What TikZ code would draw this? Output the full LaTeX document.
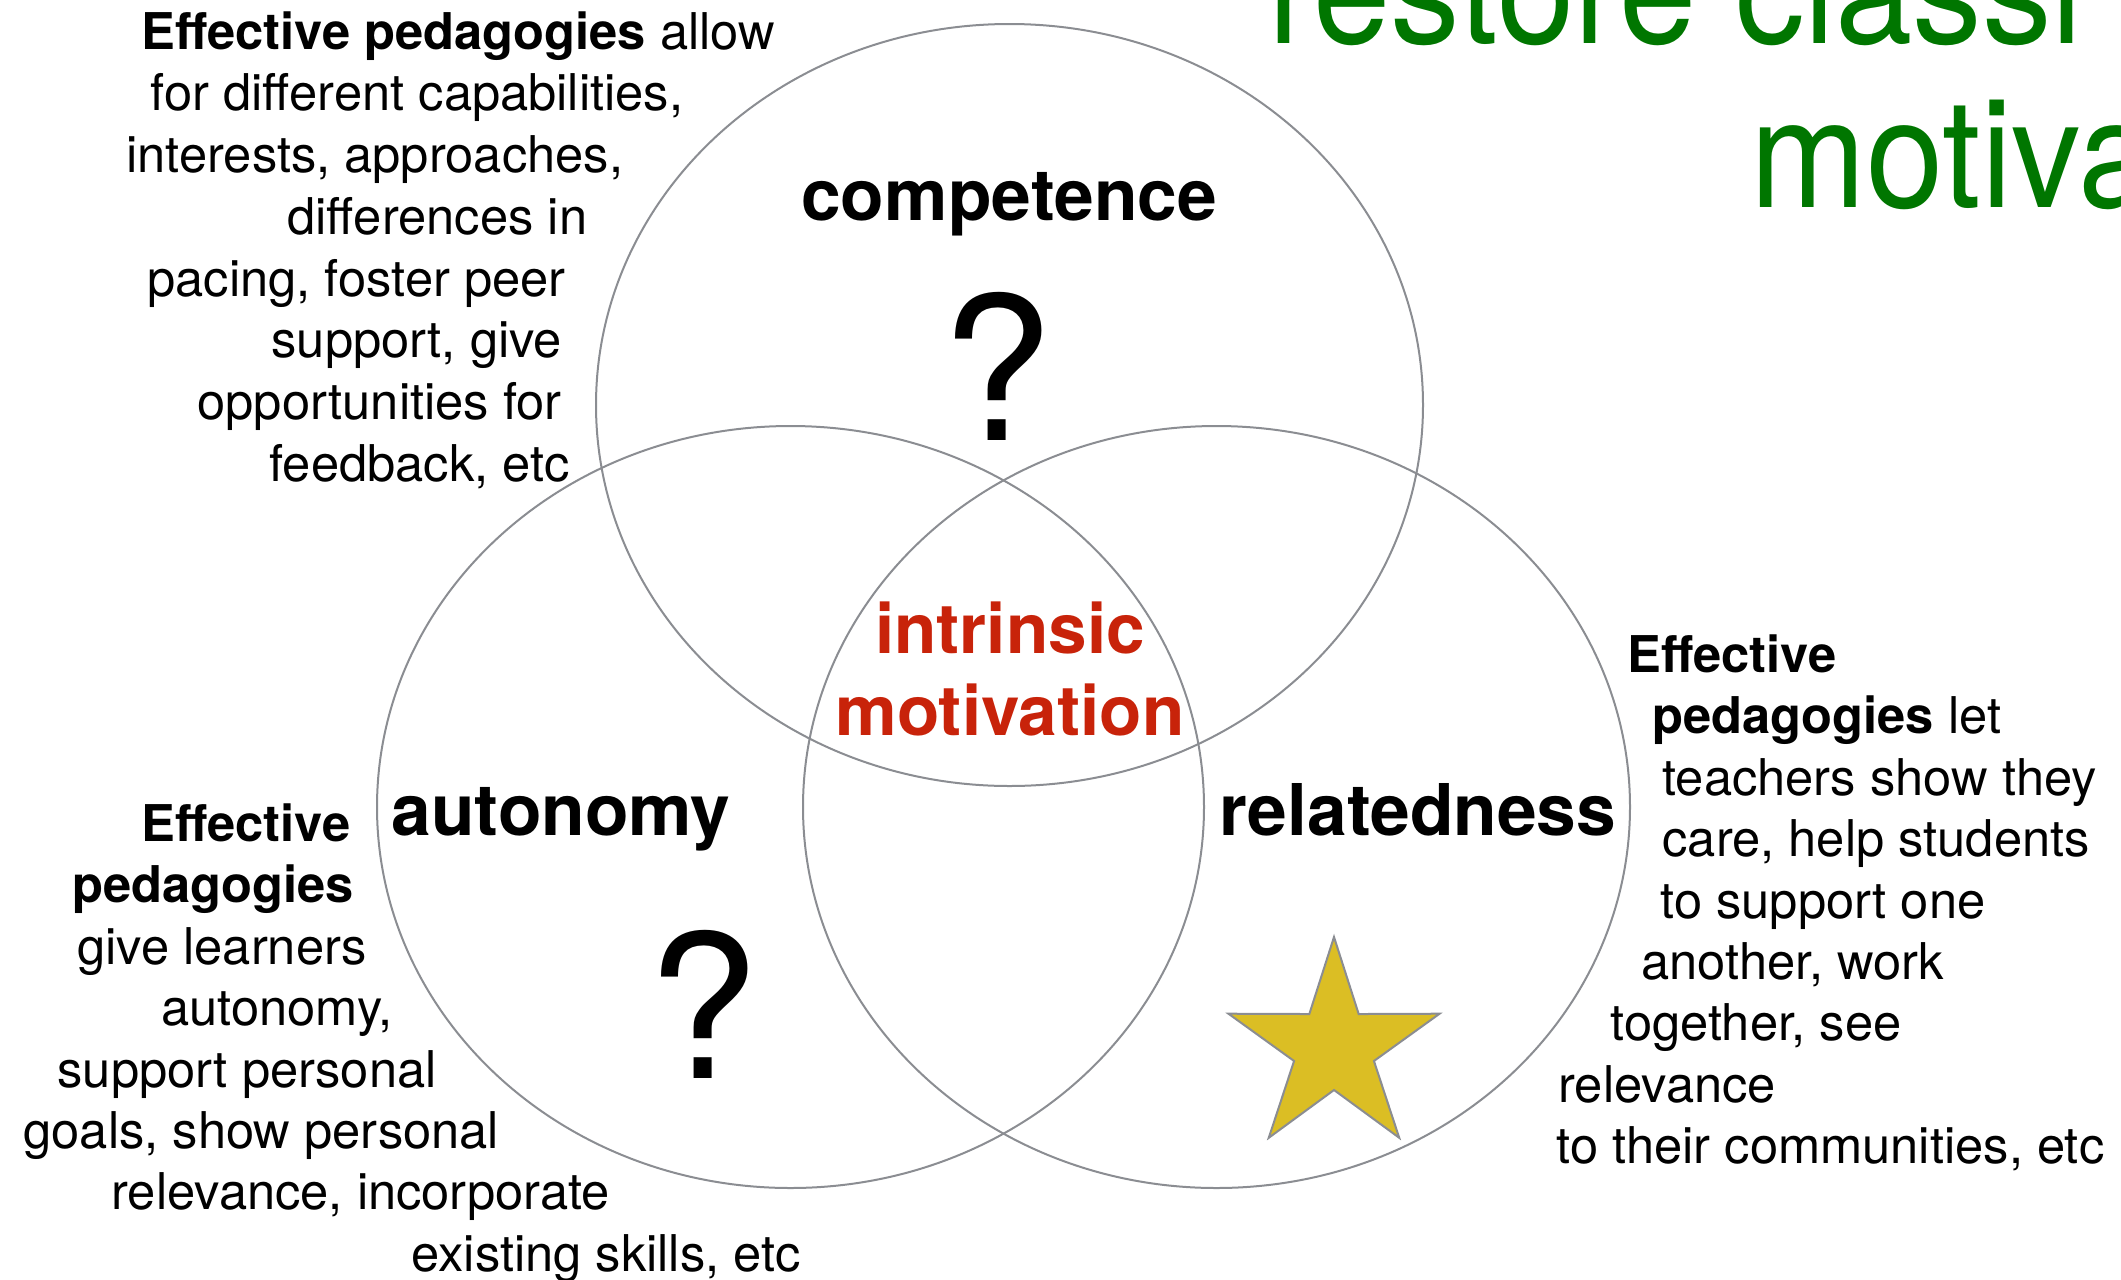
\documentclass[tikz,border=0pt]{standalone}
\usepackage{fontspec}
\setmainfont{TeX Gyre Heros}
\newfontfamily\headfont[FakeStretch=0.915]{TeX Gyre Heros}

\definecolor{ringgray}{RGB}{139,141,146}
\definecolor{motivred}{RGB}{200,35,10}
\definecolor{headgreen}{RGB}{0,118,0}
\definecolor{stargold}{RGB}{219,190,36}

\tikzset{every picture/.style={line width=0.75pt}}
\tikzset{
  ring/.style={draw=ringgray, line width=1.5pt},
  starshape/.style={draw=ringgray, line width=1.5pt, fill=stargold},
  note/.style={anchor=base west, inner sep=0pt, font=\fontsize{38}{46}\selectfont},
  need/.style={anchor=base, inner sep=0pt, font=\fontsize{53.5}{60}\selectfont\bfseries},
  core/.style={anchor=base, inner sep=0pt, text=motivred, font=\fontsize{52}{61}\selectfont\bfseries},
  unknown/.style={anchor=base, inner sep=0pt, font=\fontsize{150}{150}\selectfont},
  heading/.style={anchor=base west, inner sep=0pt, text=headgreen, font=\fontsize{114}{120}\selectfont\headfont},
}

\begin{document}
\begin{tikzpicture}[x=0.75pt,y=0.75pt,yscale=-1,xscale=1]
	\clip (0,0) rectangle (2121,1279);
	
	%Shape: Ellipse
	\draw [ring] (1009.5,405) ellipse [x radius=413.5, y radius=381];
	%Shape: Ellipse
	\draw [ring] (790.5,807) ellipse [x radius=413.5, y radius=381];
	%Shape: Ellipse
	\draw [ring] (1216.5,807) ellipse [x radius=413.5, y radius=381];
	%Shape: Star
	\draw [starshape] (1334,1048) +(-90:111) -- +(-54:42) -- +(-18:111) -- +(18:42) -- +(54:111) -- +(90:42) -- +(126:111) -- +(162:42) -- +(198:111) -- +(234:42) -- cycle;
	
	% Text Node
	\node (head1) [heading] at (1268,43) {restore classi};
	% Text Node
	\node (head2) [heading] at (1750,207) {motiva};
	
	% Text Node
	\node (comp) [need] at (1009,220) {competence};
	% Text Node
	\node (auto) [need] at (561,835) {autonomy};
	% Text Node
	\node (rel) [need] at (1418,835) {relatedness};
	% Text Node
	\node (core1) [core] at (1010,653) {intrinsic};
	% Text Node
	\node (core2) [core] at (1010,735) {motivation};
	% Text Node
	\node (compq) [unknown] at (997,440) {?};
	% Text Node
	\node (autoq) [unknown] at (703,1078) {?};
	
	% Text Node
	\node (compnote1) [note] at (141,49) {\textbf{Effective pedagogies} allow};
	\node (compnote2) [note] at (150,110) {for different capabilities,};
	\node (compnote3) [note] at (126,172) {interests, approaches,};
	\node (compnote4) [note] at (287,234) {differences in};
	\node (compnote5) [note] at (147,296) {pacing, foster peer};
	\node (compnote6) [note] at (271,357) {support, give};
	\node (compnote7) [note] at (197,419) {opportunities for};
	\node (compnote8) [note] at (269,481) {feedback, etc};
	
	% Text Node
	\node (autonote1) [note] at (141,841) {\textbf{Effective}};
	\node (autonote2) [note] at (72,902) {\textbf{pedagogies}};
	\node (autonote3) [note] at (77,964) {give learners};
	\node (autonote4) [note] at (161,1025) {autonomy,};
	\node (autonote5) [note] at (57,1087) {support personal};
	\node (autonote6) [note] at (23,1148) {goals, show personal};
	\node (autonote7) [note] at (111,1209) {relevance, incorporate};
	\node (autonote8) [note] at (411,1271) {existing skills, etc};
	
	% Text Node
	\node (relnote1) [note] at (1627,672) {\textbf{Effective}};
	\node (relnote2) [note] at (1652,733) {\textbf{pedagogies} let};
	\node (relnote3) [note] at (1662,795) {teachers show they};
	\node (relnote4) [note] at (1662,856) {care, help students};
	\node (relnote5) [note] at (1660,918) {to support one};
	\node (relnote6) [note] at (1641,979) {another, work};
	\node (relnote7) [note] at (1610,1040) {together, see};
	\node (relnote8) [note] at (1558,1102) {relevance};
	\node (relnote9) [note] at (1556,1163) {to their communities, etc};
	
\end{tikzpicture}
\end{document}
